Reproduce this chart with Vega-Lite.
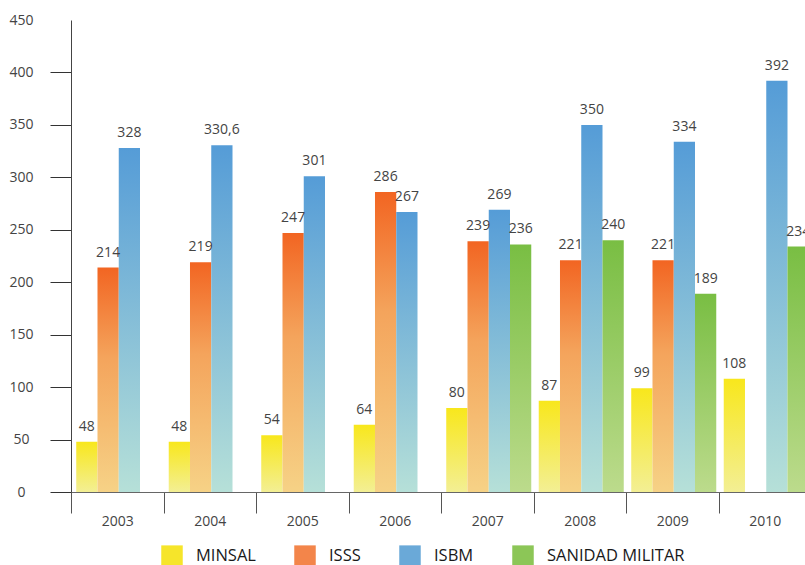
{
  "$schema": "https://vega.github.io/schema/vega-lite/v6.json",
  "width": 734,
  "height": 472,
  "autosize": {"type": "none"},
  "padding": {"left": 71, "top": 20, "right": 0, "bottom": 73},
  "background": "white",
  "config": {"view": {"stroke": null}, "font": "Open Sans"},
  "data": {
    "values": [
      {"year": "2003", "series": "MINSAL", "value": 48, "label": "48"},
      {"year": "2003", "series": "ISSS", "value": 214, "label": "214"},
      {"year": "2003", "series": "ISBM", "value": 328, "label": "328"},
      {"year": "2004", "series": "MINSAL", "value": 48, "label": "48"},
      {"year": "2004", "series": "ISSS", "value": 219, "label": "219"},
      {"year": "2004", "series": "ISBM", "value": 330.6, "label": "330,6"},
      {"year": "2005", "series": "MINSAL", "value": 54, "label": "54"},
      {"year": "2005", "series": "ISSS", "value": 247, "label": "247"},
      {"year": "2005", "series": "ISBM", "value": 301, "label": "301"},
      {"year": "2006", "series": "MINSAL", "value": 64, "label": "64"},
      {"year": "2006", "series": "ISSS", "value": 286, "label": "286"},
      {"year": "2006", "series": "ISBM", "value": 267, "label": "267"},
      {"year": "2007", "series": "MINSAL", "value": 80, "label": "80"},
      {"year": "2007", "series": "ISSS", "value": 239, "label": "239"},
      {"year": "2007", "series": "ISBM", "value": 269, "label": "269"},
      {"year": "2007", "series": "SANIDAD MILITAR", "value": 236, "label": "236"},
      {"year": "2008", "series": "MINSAL", "value": 87, "label": "87"},
      {"year": "2008", "series": "ISSS", "value": 221, "label": "221"},
      {"year": "2008", "series": "ISBM", "value": 350, "label": "350"},
      {"year": "2008", "series": "SANIDAD MILITAR", "value": 240, "label": "240"},
      {"year": "2009", "series": "MINSAL", "value": 99, "label": "99"},
      {"year": "2009", "series": "ISSS", "value": 221, "label": "221"},
      {"year": "2009", "series": "ISBM", "value": 334, "label": "334"},
      {"year": "2009", "series": "SANIDAD MILITAR", "value": 189, "label": "189"},
      {"year": "2010", "series": "MINSAL", "value": 108, "label": "108"},
      {"year": "2010", "series": "ISBM", "value": 392, "label": "392"},
      {"year": "2010", "series": "SANIDAD MILITAR", "value": 234, "label": "234"}
    ]
  },
  "encoding": {
    "x": {
      "field": "year",
      "type": "nominal",
      "scale": {"range": [0, 740], "paddingInner": 0, "paddingOuter": 0},
      "axis": {
        "title": null,
        "labelAngle": 0,
        "tickBand": "extent",
        "tickSize": 21,
        "domainColor": "#666666",
        "tickColor": "#555555",
        "labelPadding": 1,
        "labelFontSize": 14,
        "labelColor": "#444444",
        "labelFont": "Open Sans",
        "grid": false
      }
    },
    "xOffset": {
      "field": "series",
      "type": "nominal",
      "scale": {"domain": ["MINSAL", "ISSS", "ISBM", "SANIDAD MILITAR"], "paddingInner": 0, "paddingOuter": 0.176, "align": 0.7}
    },
    "y": {
      "field": "value",
      "type": "quantitative",
      "scale": {"domain": [0, 450], "nice": false},
      "axis": {
        "title": null,
        "values": [0, 50, 100, 150, 200, 250, 300, 350, 400, 450],
        "grid": false,
        "tickSize": 21,
        "labelPadding": 29,
        "labelAlign": "center",
        "domainColor": "#444444",
        "tickColor": {"condition": {"test": "datum.value === 450", "value": "transparent"}, "value": "#333333"},
        "labelFontSize": 14,
        "labelColor": "#444444",
        "labelFont": "Open Sans"
      }
    }
  },
  "layer": [
    {
      "mark": {"type": "bar"},
      "encoding": {
        "fill": {
          "condition": [
            {"test": "datum.series === 'MINSAL'", "value": {"gradient": "linear", "x1": 0, "y1": 0, "x2": 0, "y2": 1, "stops": [{"offset": 0, "color": "#f8e71c"}, {"offset": 1, "color": "#f3ef94"}]}},
            {"test": "datum.series === 'ISSS'", "value": {"gradient": "linear", "x1": 0, "y1": 0, "x2": 0, "y2": 1, "stops": [{"offset": 0, "color": "#f26522"}, {"offset": 0.4, "color": "#f4a45c"}, {"offset": 1, "color": "#f6d286"}]}},
            {"test": "datum.series === 'ISBM'", "value": {"gradient": "linear", "x1": 0, "y1": 0, "x2": 0, "y2": 1, "stops": [{"offset": 0, "color": "#559cd7"}, {"offset": 1, "color": "#b6e0d8"}]}}
          ],
          "value": {"gradient": "linear", "x1": 0, "y1": 0, "x2": 0, "y2": 1, "stops": [{"offset": 0, "color": "#79be43"}, {"offset": 1, "color": "#bcdb8c"}]}
        }
      }
    },
    {
      "mark": {"type": "text", "dy": -11, "baseline": "alphabetic", "fontSize": 14, "color": "#444444", "font": "Open Sans"},
      "encoding": {"text": {"field": "label"}}
    },
    {
      "mark": {"type": "point", "shape": "square", "filled": true, "opacity": 0, "size": 1},
      "encoding": {
        "color": {
          "field": "series",
          "type": "nominal",
          "scale": {
            "domain": ["MINSAL", "ISSS", "ISBM", "SANIDAD MILITAR"],
            "range": ["#f6e52a", "#f3854a", "#6aa9d8", "#8cc657"]
          },
          "legend": {
            "orient": "none",
            "legendX": 90,
            "legendY": 525,
            "direction": "horizontal",
            "title": null,
            "padding": 0,
            "symbolType": "square",
            "symbolSize": 462,
            "symbolStrokeWidth": 0,
            "symbolOpacity": 1,
            "labelFontSize": 16.5,
            "labelColor": "#1a1a1a",
            "labelFont": "Open Sans",
            "labelOffset": 13,
            "columnPadding": 38
          }
        }
      }
    }
  ]
}
